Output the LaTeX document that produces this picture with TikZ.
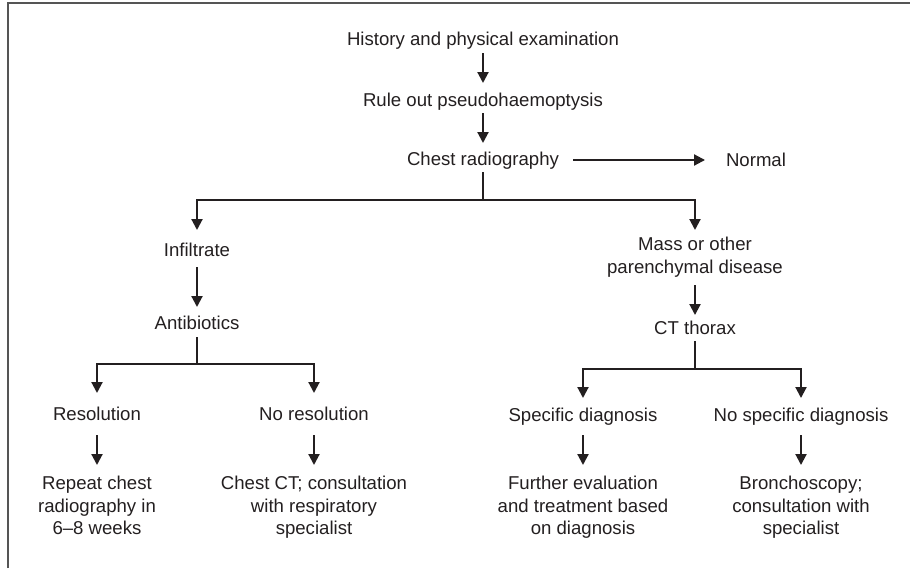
\documentclass[tikz,border=0pt]{standalone}
\usepackage{fontspec}
\setmainfont{Liberation Sans}
\usetikzlibrary{arrows.meta,calc}
\definecolor{ink}{HTML}{231F20}
\definecolor{framec}{HTML}{555555}
\tikzset{
  lbl/.style={inner sep=0pt, outer sep=0pt, text=ink, align=center,
    font=\fontsize{18.6pt}{22.2pt}\selectfont},
  conn/.style={draw=ink, line width=2.1pt},
  arr/.style={conn, -{Triangle[length=11pt,width=11pt]}},
}
\begin{document}
\begin{tikzpicture}[x=1pt,y=-1pt]
\useasboundingbox (0,0) rectangle (910,568);
% frame (top and left edges only)
\draw[framec, line width=1.4pt] (8,568) -- (8,3) -- (910,3);

% nodes
\node[lbl, anchor=base] (hist) at (483,45.5) {History and physical examination};
\node[lbl, anchor=base] (rule) at (483,106) {Rule out pseudohaemoptysis};
\node[lbl, anchor=base] (cr) at (483,165.7) {Chest radiography};
\node[lbl, anchor=base] (nor) at (756,166.5) {Normal};
\node[lbl, anchor=base] (inf) at (197,256) {Infiltrate};
\node[lbl, anchor=base] (anti) at (197,329.3) {Antibiotics};
\node[lbl, anchor=north] (mass) at (695,237.5) {Mass or other\\parenchymal disease};
\node[lbl, anchor=base] (ct) at (695,334.3) {CT thorax};
\node[lbl, anchor=base] (res) at (97,420) {Resolution};
\node[lbl, anchor=base] (nores) at (314,420) {No resolution};
\node[lbl, anchor=base] (spec) at (583,421.5) {Specific diagnosis};
\node[lbl, anchor=base] (nospec) at (801,421.5) {No specific diagnosis};
\node[lbl, anchor=north] (rep) at (97,476.5) {Repeat chest\\radiography in\\6–8 weeks};
\node[lbl, anchor=north] (cct) at (314,476.5) {Chest CT; consultation\\with respiratory\\specialist};
\node[lbl, anchor=north] (fur) at (583,476.5) {Further evaluation\\and treatment based\\on diagnosis};
\node[lbl, anchor=north] (bron) at (801,476.5) {Bronchoscopy;\\consultation with\\specialist};

% junction coordinates
\coordinate (j1) at ($(cr.base)+(0,34.3)$);
\coordinate (j2) at ($(anti.base)+(0,34.7)$);
\coordinate (j3) at ($(ct.base)+(0,34.7)$);

% connectors
\draw[arr] ($(hist.base)+(0,7.5)$) -- ($(rule.base)+(0,-23)$);
\draw[arr] ($(rule.base)+(0,7)$) -- ($(cr.base)+(0,-22.7)$);
\draw[arr] ($(cr.base -| cr.east)+(14,-5.7)$) -- ($(nor.base -| nor.west)+(-21,-6.5)$);

\draw[conn] ($(cr.base)+(0,6.3)$) -- (j1);
\draw[arr] (j1) -| ($(inf.base)+(0,-26)$);
\draw[arr] (j1) -| ($(mass.north)+(0,-7.5)$);

\draw[arr] ($(inf.base)+(0,11)$) -- ($(anti.base)+(0,-22.3)$);
\draw[conn] ($(anti.base)+(0,7.7)$) -- (j2);
\draw[arr] (j2) -| ($(res.base)+(0,-27)$);
\draw[arr] (j2) -| ($(nores.base)+(0,-27)$);

\draw[arr] ($(mass.south)+(0,8)$) -- ($(ct.base)+(0,-19.3)$);
\draw[conn] ($(ct.base)+(0,6.7)$) -- (j3);
\draw[arr] (j3) -| ($(spec.base)+(0,-23.5)$);
\draw[arr] (j3) -| ($(nospec.base)+(0,-23.5)$);

\draw[arr] ($(res.base)+(0,15)$) -- ($(rep.north)+(0,-11.5)$);
\draw[arr] ($(nores.base)+(0,15)$) -- ($(cct.north)+(0,-11.5)$);
\draw[arr] ($(spec.base)+(0,13.5)$) -- ($(fur.north)+(0,-11.5)$);
\draw[arr] ($(nospec.base)+(0,13.5)$) -- ($(bron.north)+(0,-11.5)$);
\end{tikzpicture}
\end{document}
